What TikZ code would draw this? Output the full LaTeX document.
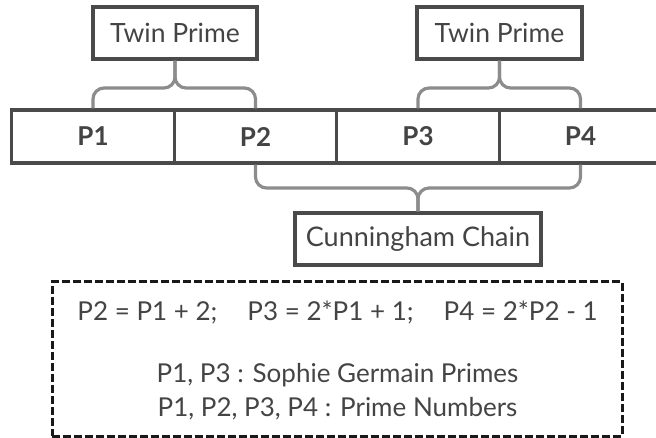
\documentclass[tikz,border=0pt]{standalone}
\usepackage{fontspec}
\setmainfont{Lato}
\usetikzlibrary{calc}
\definecolor{boxc}{HTML}{4A4A4A}
\definecolor{bracec}{HTML}{8C8C8C}
\definecolor{txtc}{HTML}{444444}
\begin{document}
\begin{tikzpicture}[x=1pt,y=-1pt,
  lbl/.style={draw=boxc,line width=3.2pt,text=txtc,inner sep=0pt,font=\fontsize{26.5}{30}\selectfont},
  cell/.style={draw=boxc,line width=3.2pt,minimum width=162.5pt,minimum height=53pt,inner sep=0pt,text=txtc,font=\fontsize{26}{30}\selectfont\bfseries},
  brc/.style={draw=bracec,line width=3.2pt,rounded corners=11pt},
  note/.style={text=txtc,font=\fontsize{26}{30}\selectfont}]
\useasboundingbox (0,0) rectangle (656,438);
\begin{scope}
\clip (0,0) rectangle (656,438);
\node[cell] (p1) at (93,136.5) {P1};
\node[cell] (p2) at (255.5,136.5) {P2};
\node[cell] (p3) at (418,136.5) {P3};
\node[cell] (p4) at (580.5,136.5) {P4};
\end{scope}
\node[lbl,minimum width=164pt,minimum height=52pt] (tw1) at (175,33) {Twin Prime};
\node[lbl,minimum width=165pt,minimum height=52pt] (tw2) at (499.5,33) {Twin Prime};
\node[lbl,minimum width=246pt,minimum height=52pt,font=\fontsize{27}{31}\selectfont] (cc) at (418,239) {Cunningham Chain};
\coordinate (m1) at (175,88);
\coordinate (m2) at (499.5,88);
\coordinate (m3) at (418,188);
\draw[brc] (p1.north) |- (m1) -- (tw1.south);
\draw[brc] (p2.north) |- (m1) -- (tw1.south);
\draw[brc] (p3.north) |- (m2) -- (tw2.south);
\draw[brc] (p4.north) |- (m2) -- (tw2.south);
\draw[brc] (p2.south) |- (m3) -- (cc.north);
\draw[brc] (p4.south) |- (m3) -- (cc.north);
\node[draw=black!90,line width=3pt,dash pattern=on 8pt off 3pt,minimum width=570pt,minimum height=154pt] (nb) at (337,359) {};
\node[note] (eq) at (337.5,312) {P2 = P1 + 2;\hspace{30pt}P3 = 2*P1 + 1;\hspace{30pt}P4 = 2*P2 - 1};
\node[note] (sg) at (337.5,375) {P1, P3 : Sophie Germain Primes};
\node[note] (pn) at (337.5,409) {P1, P2, P3, P4 : Prime Numbers};
\end{tikzpicture}
\end{document}
